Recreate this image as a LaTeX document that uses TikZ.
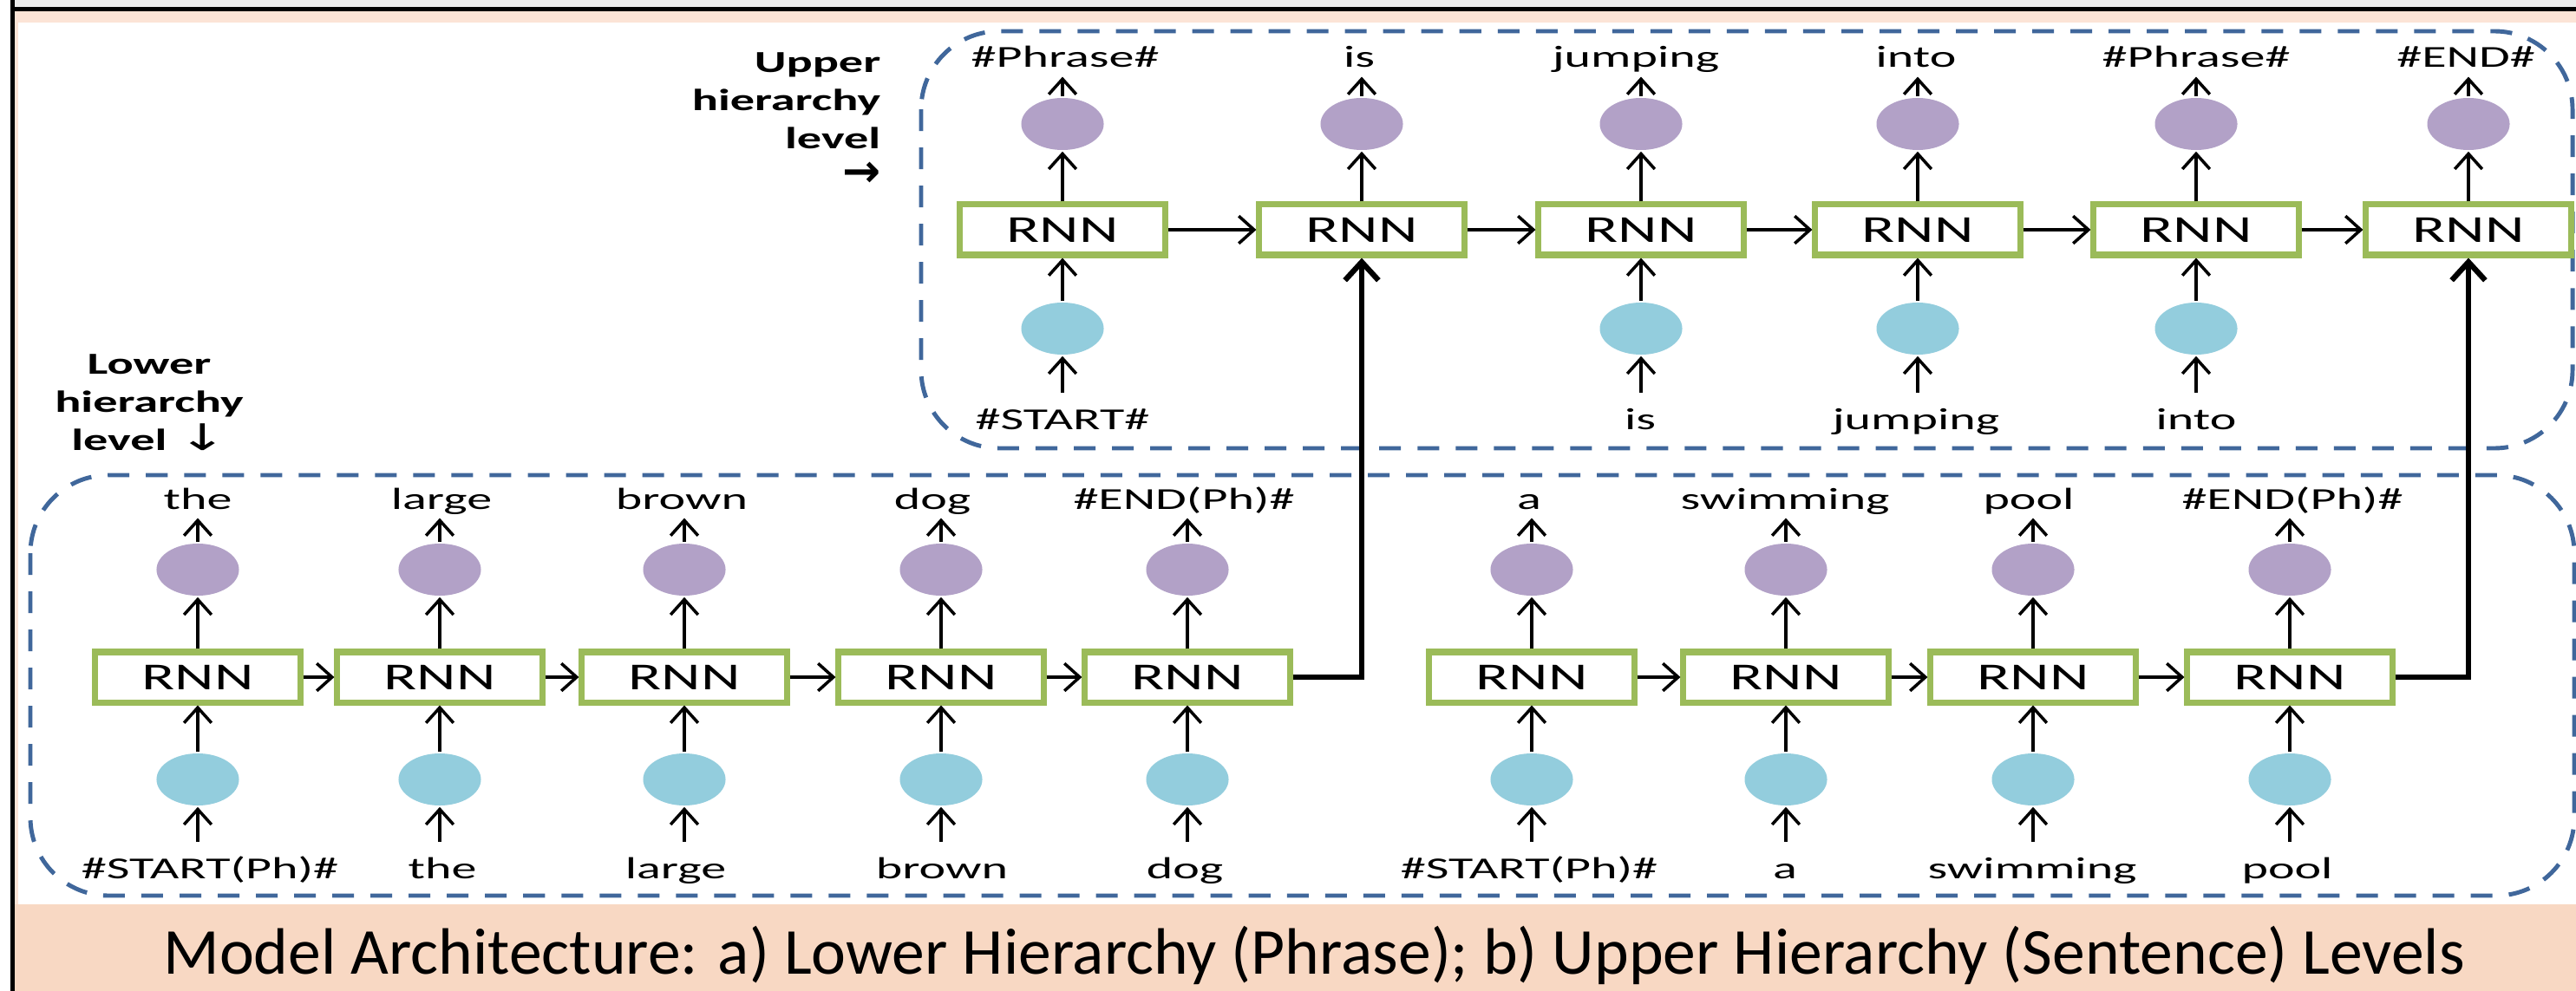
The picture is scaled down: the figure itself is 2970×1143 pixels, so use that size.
\documentclass[tikz,border=0pt]{standalone}
\usepackage{fontspec}
\setmainfont{Carlito}
\newfontfamily\arrowfont{DejaVu Sans}
\usepackage{tikz}
\usetikzlibrary{arrows.meta,shapes.geometric}
\definecolor{rnngreen}{HTML}{9BBB59}
\definecolor{outpurple}{HTML}{B2A1C7}
\definecolor{inblue}{HTML}{93CDDD}
\definecolor{dashblue}{HTML}{40679B}
\definecolor{peachtop}{HTML}{FCE4D6}
\definecolor{peachcap}{HTML}{F8D8C3}
\definecolor{topgray}{HTML}{EBEBEB}
\newcommand{\wrd}[1]{\scalebox{1.65}[1]{#1}}
\newcommand{\rnntxt}{\scalebox{1.6}[1]{RNN}}

\begin{document}
\begin{tikzpicture}[x=0.01cm,y=-0.01cm,line width=1pt]
            \tikzstyle{rnn}=[rectangle,draw=rnngreen,line width=2pt,fill=white,minimum width=2.36cm,minimum height=0.58cm,inner sep=0pt,font=\fontsize{12.5}{15}\selectfont]
            \tikzstyle{outv}=[ellipse,fill=outpurple,minimum width=0.95cm,minimum height=0.6cm,inner sep=0pt]
            \tikzstyle{inv}=[ellipse,fill=inblue,minimum width=0.95cm,minimum height=0.6cm,inner sep=0pt]
            \tikzstyle{toplbl}=[anchor=base,inner xsep=0pt,inner ysep=2.5pt,text height=7pt,text depth=0pt,font=\fontsize{10}{12}\selectfont]
            \tikzstyle{botlbl}=[anchor=base,inner xsep=0pt,inner ysep=4.4pt,text height=7pt,text depth=0pt,font=\fontsize{10}{12}\selectfont]
            \tikzstyle{side}=[inner sep=0pt,font=\bfseries\fontsize{10}{12.5}\selectfont]
            \tikzstyle{level}=[draw=dashblue,line width=1.4pt,dash pattern=on 0.25cm off 0.19cm,rounded corners=0.9cm]
            \tikzstyle{arr}=[-{Straight Barb[length=5pt,width=9pt]}]
            \tikzstyle{jump}=[line width=1.8pt,-{Straight Barb[length=6pt,width=11pt]}]

            \useasboundingbox (0,0) rectangle (2970,1143);
            \fill[white] (0,0) rectangle (2970,1143);
            \fill[topgray] (17,0) rectangle (2970,8);
            \fill[peachtop] (17,13) rectangle (2970,26);
            \fill[peachtop] (17,13) rectangle (21,1043);
            \fill[peachcap] (17,1043) rectangle (2970,1143);
            \fill[black] (12,8) rectangle (2970,13);
            \fill[black] (12,0) rectangle (17,1143);

            \draw[level] (1062,36) rectangle (2966,517);
            \draw[level] (35,548) rectangle (2968,1033);

            \node[side,anchor=base east] (upper) at (1017,84) {\scalebox{1.6}[1]{\begin{tabular}[t]{@{}r@{}}Upper\\hierarchy\\level\\{\arrowfont\fontsize{15}{12.5}\selectfont\scalebox{0.625}[1]{→}}\end{tabular}}};
            \node[side,anchor=base] (lower) at (172,432) {\scalebox{1.6}[1]{\begin{tabular}[t]{@{}c@{}}Lower\\hierarchy\\level {\arrowfont\mdseries\fontsize{12}{12.5}\selectfont ↓}\end{tabular}}};

            \foreach \num/\x in {1/1225, 2/1570, 3/1892, 4/2211, 5/2532, 6/2846}
            {
                \node[rnn] (U-\num) at (\x,265) {\rnntxt};
                \node[outv] (UO-\num) at (\x,143) {};
            }
            \foreach \num/\x in {1/1225, 3/1892, 4/2211, 5/2532}
                \node[inv] (UI-\num) at (\x,379) {};
            \foreach \num/\x/\txt in {1/1228/\#Phrase\#, 2/1567/is, 3/1886/jumping, 4/2209/into, 5/2532/\#Phrase\#, 6/2843/\#END\#}
                \node[toplbl] (UT-\num) at (\x,78) {\wrd{\txt}};
            \foreach \num/\x/\txt in {1/1225/\#START\#, 3/1891/is, 4/2209/jumping, 5/2532/into}
                \node[botlbl] (UB-\num) at (\x,495) {\wrd{\txt}};

            \foreach \num/\x in {1/228, 2/507, 3/789, 4/1085, 5/1369, 6/1766, 7/2059, 8/2344, 9/2640}
            {
                \node[rnn] (L-\num) at (\x,781) {\rnntxt};
                \node[outv] (LO-\num) at (\x,657) {};
                \node[inv] (LI-\num) at (\x,899) {};
            }
            \foreach \num/\x/\txt in {1/228/the, 2/509/large, 3/786/brown, 4/1075/dog, 5/1365/\#END(Ph)\#, 6/1763/a, 7/2058/swimming, 8/2339/pool, 9/2643/\#END(Ph)\#}
                \node[toplbl] (LT-\num) at (\x,587) {\wrd{\txt}};
            \foreach \num/\x/\txt in {1/242/\#START(Ph)\#, 2/510/the, 3/779/large, 4/1086/brown, 5/1366/dog, 6/1763/\#START(Ph)\#, 7/2058/a, 8/2343/swimming, 9/2637/pool}
                \node[botlbl] (LB-\num) at (\x,1013) {\wrd{\txt}};

            \foreach \num in {1,...,6}
            {
                \draw[arr] (U-\num) -- (UO-\num);
                \draw[arr] (UO-\num.north) -- (UO-\num.north |- UT-\num.south);
            }
            \foreach \num in {1,3,4,5}
            {
                \draw[arr] (UI-\num.south |- UB-\num.north) -- (UI-\num.south);
                \draw[arr] (UI-\num) -- (U-\num);
            }
            \foreach \from/\to in {1/2, 2/3, 3/4, 4/5, 5/6}
                \draw[arr] (U-\from) -- (U-\to);

            \foreach \num in {1,...,9}
            {
                \draw[arr] (L-\num) -- (LO-\num);
                \draw[arr] (LO-\num.north) -- (LO-\num.north |- LT-\num.south);
                \draw[arr] (LI-\num.south |- LB-\num.north) -- (LI-\num.south);
                \draw[arr] (LI-\num) -- (L-\num);
            }
            \foreach \from/\to in {1/2, 2/3, 3/4, 4/5, 6/7, 7/8, 8/9}
                \draw[arr] (L-\from) -- (L-\to);

            \draw[jump] (L-5.east) -| (U-2.south);
            \draw[jump] (L-9.east) -| (U-6.south);

            \node[anchor=base,font=\fontsize{21.5}{26}\selectfont] (caption) at (1515,1123) {Model Architecture: a) Lower Hierarchy (Phrase); b) Upper Hierarchy (Sentence) Levels};
        \end{tikzpicture}
\end{document}
